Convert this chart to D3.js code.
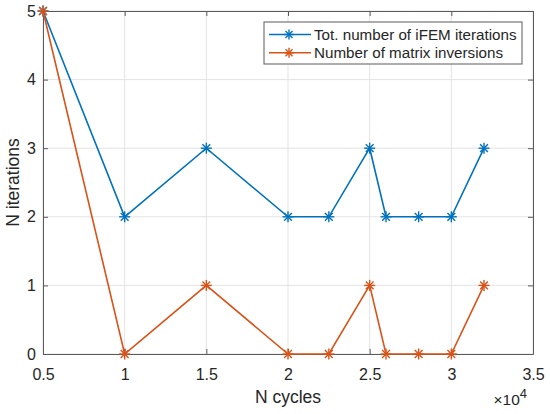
<!DOCTYPE html>
<html>
<head>
<meta charset="utf-8">
<script src="https://cdn.jsdelivr.net/npm/d3@7"></script>
<style>
  body { margin: 0; background: #fff; }
  text { font-family: "Liberation Sans", Arial, Helvetica, sans-serif; fill: #262626; }
</style>
</head>
<body>
<svg id="chart"></svg>
<script>
// data (x in units of 1e4 cycles)
const cycles = [0.5, 1, 1.5, 2, 2.25, 2.5, 2.6, 2.8, 3, 3.2];
const totIterations = [5, 2, 3, 2, 2, 3, 2, 2, 2, 3];
const matrixInversions = [5, 0, 1, 0, 0, 1, 0, 0, 0, 1];
const xTicks = [0.5, 1, 1.5, 2, 2.5, 3, 3.5];
const yTicks = [0, 1, 2, 3, 4, 5];
const seriesNames = ["Tot. number of iFEM iterations", "Number of matrix inversions"];
const colors = ["#0072BD", "#D95319"];

const width = 550, height = 414;
const margin = { top: 11, right: 17, bottom: 60, left: 43 };

const svg = d3.select("#chart").attr("width", width).attr("height", height);

const x = d3.scaleLinear().domain([0.5, 3.5]).range([margin.left, width - margin.right]);
const y = d3.scaleLinear().domain([0, 5]).range([height - margin.bottom, margin.top]);

// grid
svg.append("g").selectAll("line").data(xTicks).enter().append("line")
    .attr("x1", d => x(d)).attr("x2", d => x(d))
    .attr("y1", y(0)).attr("y2", y(5))
    .attr("stroke", "#e3e3e3").attr("stroke-width", 1);
svg.append("g").selectAll("line").data(yTicks).enter().append("line")
    .attr("x1", x(0.5)).attr("x2", x(3.5))
    .attr("y1", d => y(d)).attr("y2", d => y(d))
    .attr("stroke", "#e3e3e3").attr("stroke-width", 1);

// axes with inward ticks
const fmt = d => String(d);
const axisStyle = g => {
    g.select(".domain").attr("stroke", "#5a5a5a");
    g.selectAll(".tick line").attr("stroke", "#5a5a5a");
    g.selectAll(".tick text").attr("fill", "#262626").attr("font-size", 16)
        .style("font-family", '"Liberation Sans", Arial, sans-serif');
};
svg.append("g").attr("transform", `translate(0,${y(0)})`)
    .call(d3.axisBottom(x).tickValues(xTicks).tickFormat(fmt).tickSizeInner(-5).tickSizeOuter(0).tickPadding(14.5))
    .call(axisStyle);
svg.append("g").attr("transform", `translate(0,${y(5)})`)
    .call(d3.axisTop(x).tickValues(xTicks).tickFormat("").tickSizeInner(-5).tickSizeOuter(0))
    .call(axisStyle);
svg.append("g").attr("transform", `translate(${x(0.5)},0)`)
    .call(d3.axisLeft(y).tickValues(yTicks).tickFormat(fmt).tickSizeInner(-5).tickSizeOuter(0).tickPadding(7))
    .call(axisStyle);
svg.append("g").attr("transform", `translate(${x(3.5)},0)`)
    .call(d3.axisRight(y).tickValues(yTicks).tickFormat("").tickSizeInner(-5).tickSizeOuter(0))
    .call(axisStyle);

// labels
svg.append("text").attr("x", (x(0.5) + x(3.5)) / 2).attr("y", 403)
    .attr("text-anchor", "middle").attr("font-size", 17.5).text("N cycles");
svg.append("text").attr("transform", `translate(18.5,${(y(0) + y(5)) / 2}) rotate(-90)`)
    .attr("text-anchor", "middle").attr("font-size", 17.5).text("N iterations");
const expo = svg.append("text").attr("x", 527).attr("y", 405)
    .attr("text-anchor", "end").attr("font-size", 15.5);
expo.append("tspan").text("\u00d710");
expo.append("tspan").attr("dy", -7.5).attr("font-size", 13).text("4");

// star marker
function star(g, cx, cy, r, color) {
    const d = r * Math.SQRT1_2;
    const segs = [[-r, 0, r, 0], [0, -r, 0, r], [-d, -d, d, d], [-d, d, d, -d]];
    segs.forEach(s => g.append("line")
        .attr("x1", cx + s[0]).attr("y1", cy + s[1])
        .attr("x2", cx + s[2]).attr("y2", cy + s[3])
        .attr("stroke", color).attr("stroke-width", 1.4));
}

const line = d3.line().x(d => x(d[0])).y(d => y(d[1]));
[totIterations, matrixInversions].forEach((vals, i) => {
    const pts = cycles.map((c, j) => [c, vals[j]]);
    const g = svg.append("g");
    g.append("path").datum(pts).attr("d", line)
        .attr("fill", "none").attr("stroke", colors[i]).attr("stroke-width", 1.6);
    pts.forEach(p => star(g, x(p[0]), y(p[1]), 5.5, colors[i]));
});

// legend
const lg = svg.append("g").attr("transform", "translate(264,22)");
lg.append("rect").attr("width", 258).attr("height", 42)
    .attr("fill", "#fff").attr("stroke", "#5a5a5a").attr("stroke-width", 1);
seriesNames.forEach((name, i) => {
    const yy = 12.5 + i * 18.3;
    lg.append("line").attr("x1", 5).attr("x2", 47).attr("y1", yy).attr("y2", yy)
        .attr("stroke", colors[i]).attr("stroke-width", 1.6);
    star(lg, 25, yy, 5, colors[i]);
    lg.append("text").attr("x", 50).attr("y", yy + 5.5).attr("font-size", 15.2).text(name);
});
</script>
</body>
</html>
